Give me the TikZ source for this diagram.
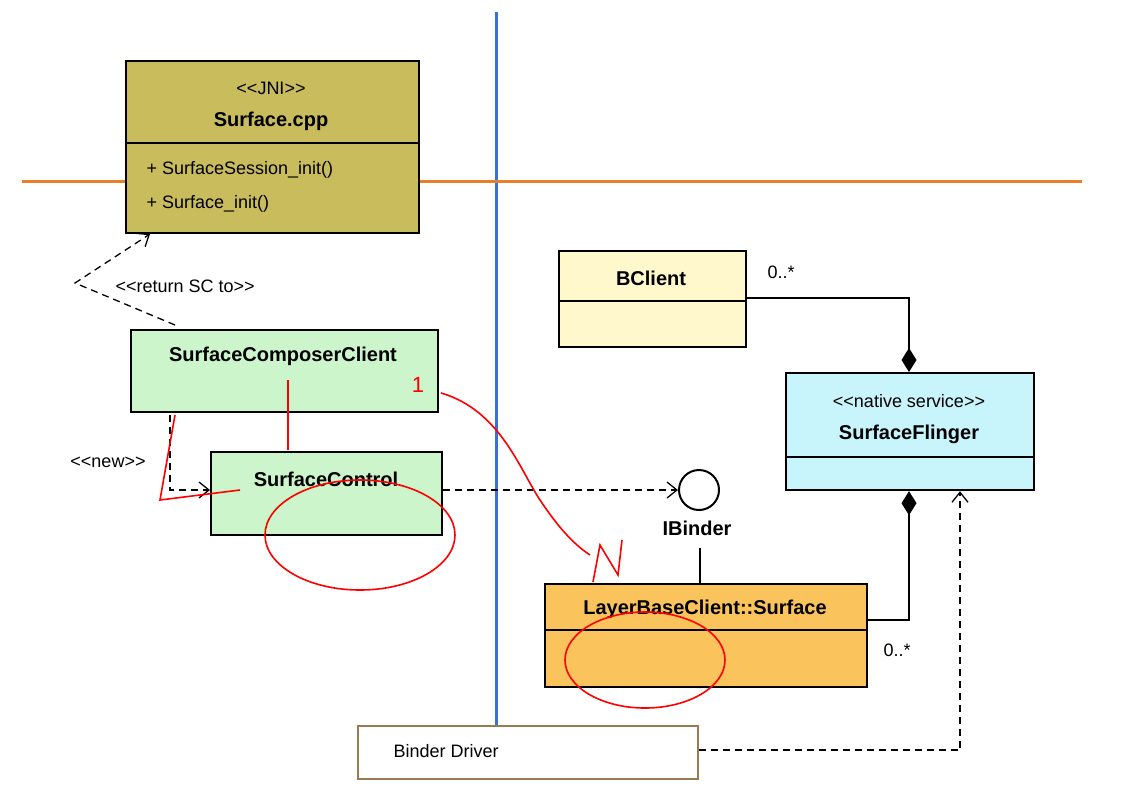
\documentclass[tikz,border=0pt]{standalone}
\usepackage{fontspec}
\setmainfont{Liberation Sans}
\usetikzlibrary{arrows.meta}
\newcommand{\myLL}{<\kern0pt<}
\newcommand{\myGG}{>\kern0pt>}
\definecolor{olive}{HTML}{C8BC5C}
\definecolor{lgreen}{HTML}{CCF5CC}
\definecolor{lyellow}{HTML}{FFF8CC}
\definecolor{lcyan}{HTML}{C8F4FC}
\definecolor{lorange}{HTML}{FBC35C}
\definecolor{vblue}{HTML}{3A6FD8}
\definecolor{horange}{HTML}{E8802A}
\definecolor{brownb}{HTML}{9A7A50}
\begin{document}
\begin{tikzpicture}[x=1pt,y=-1pt,
  box/.style={draw=black,line width=2.2pt},
  nm/.style={font=\fontsize{20}{22}\selectfont\bfseries},
  tx/.style={font=\fontsize{18}{20}\selectfont},
  dsh/.style={dashed,line width=1.3pt,dash pattern=on 7pt off 5pt},
  open/.style={-{Straight Barb[length=10pt,width=16pt,line width=1.3pt]}},
  dia/.style={{Diamond[length=24pt,width=15pt]}-},
  red/.style={draw=red,line width=1.6pt}]
\useasboundingbox (0,0) rectangle (1122,796);
\fill[white] (0,0) rectangle (1122,796);
% lines
\draw[vblue,line width=3pt] (496,12) -- (496,770);
\draw[horange,line width=3pt] (22,181) -- (1082,181);
% Surface.cpp
\node[box,fill=olive,minimum width=293pt,minimum height=172pt,anchor=north west,inner sep=0] (scpp) at (125,60) {};
\draw[line width=1.5pt] (125,143) -- (418,143);
\node[tx] (jni) at (271,88) {\myLL JNI\myGG};
\node[nm] (scppn) at (271,121) {Surface.cpp};
\node[tx,anchor=west] (m1) at (143,170) {+ SurfaceSession\_init()};
\node[tx,anchor=west] (m2) at (143,204) {+ Surface\_init()};
% SurfaceComposerClient
\node[box,fill=lgreen,minimum width=307pt,minimum height=82pt,anchor=north west,inner sep=0] (scc) at (130,329) {};
\node[nm] (sccn) at (283,356) {SurfaceComposerClient};
% SurfaceControl
\node[box,fill=lgreen,minimum width=231pt,minimum height=83pt,anchor=north west,inner sep=0] (sc) at (210,451) {};
\node[nm] (scn) at (326,479) {SurfaceControl};
% BClient
\node[box,fill=lyellow,minimum width=187pt,minimum height=96pt,anchor=north west,inner sep=0] (bc) at (558,250) {};
\draw[line width=1.5pt] (558,301) -- (745,301);
\node[nm] (bcn) at (651,278) {BClient};
% SurfaceFlinger
\node[box,fill=lcyan,minimum width=248pt,minimum height=117pt,anchor=north west,inner sep=0] (sf) at (785,372) {};
\draw[line width=1.5pt] (785,457) -- (1033,457);
\node[tx] (ns) at (909,401) {\myLL native service\myGG};
\node[nm] (sfn) at (909,434) {SurfaceFlinger};
% LayerBaseClient::Surface
\node[box,fill=lorange,minimum width=322pt,minimum height=103pt,anchor=north west,inner sep=0] (lbs) at (544,583) {};
\draw[line width=1.5pt] (544,630) -- (866,630);
\node[nm] (lbsn) at (705,609) {LayerBaseClient::Surface};
% Binder Driver
\node[draw=brownb,line width=1.5pt,fill=white,minimum width=340pt,minimum height=53pt,anchor=north west,inner sep=0] (bd) at (357,725) {};
\node[tx,anchor=west] (bdn) at (390,751) {Binder Driver};
% IBinder
\node[draw,circle,line width=2pt,minimum size=40pt,inner sep=0] (ib) at (699,490) {};
\node[nm] (ibn) at (697,528) {IBinder};
\coordinate (ibb) at (700,548);
\draw[line width=1.3pt] (ibb) -- (lbs.north -| ibb);
% connectors
\coordinate (c1) at (909,298);
\draw[line width=1.5pt,dia] (sf.north -| c1) -- (c1) -- (bc.east |- c1);
\node[tx] (m01a) at (781,272) {0..*};
\coordinate (c2) at (909,620);
\draw[line width=1.5pt,dia] (sf.south -| c2) -- (c2) -- (lbs.east |- c2);
\node[tx] (m01b) at (897,650) {0..*};
\coordinate (c3) at (960,750);
\draw[dsh,open] (bd.east |- c3) -- (c3) -- (sf.south -| c3);
\draw[dsh,open] (sc.east |- ib) -- (ib.west);
\coordinate (r1) at (175,325);
\coordinate (r2) at (75,283);
\coordinate (r3) at (150,234);
\draw[dsh,open] (r1) -- (r2) -- (r3);
\node[tx,anchor=west] (rsc) at (112,286) {\myLL return SC to\myGG};
\coordinate (n1) at (170,415);
\coordinate (n2) at (170,490);
\draw[dsh,open] (n1) -- (n2) -- (sc.west |- n2);
\node[tx] (nw) at (108,462) {\myLL new\myGG};
% red annotations
\draw[red] (441,393) .. controls (500,410) and (520,470) .. (540,500) .. controls (560,530) and (575,545) .. (590,555);
\node[text=red,font=\fontsize{22}{24}\selectfont] (one) at (418,385) {1};
\draw[red] (593,582) -- (600,545) -- (618,575) -- (622,540);
\draw[red] (360,535) ellipse (95pt and 55pt);
\draw[red] (645,660) ellipse (80pt and 48pt);
\draw[red] (288,450) -- (288,380);
\draw[red] (175,415) -- (160,500) -- (240,490);
\end{tikzpicture}
\end{document}
